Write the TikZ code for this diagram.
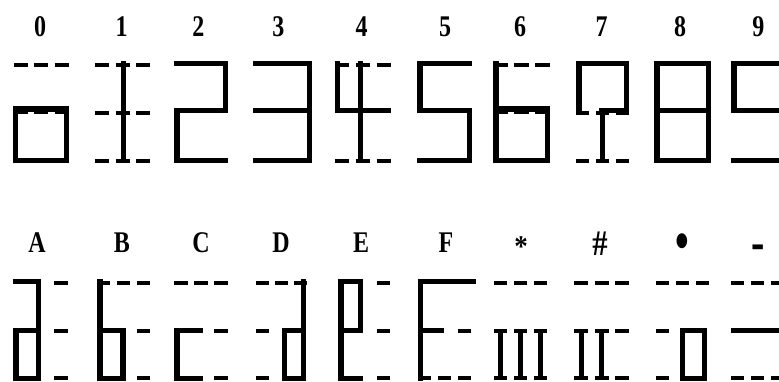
\documentclass[tikz,border=0pt]{standalone}
\usepackage{fontspec}
\setmainfont{Liberation Serif}
\usepackage{graphicx}
\newcommand\mydash[4]{%
  \pgfmathsetmacro\mydl{(#2-#1-13)/3}%
  \pgfmathsetmacro\myxa{#1+(#4-1)*(\mydl+6.5)}%
  \pgfmathsetmacro\myxb{\myxa+\mydl}%
  \draw[dashseg] (\myxa,#3) -- (\myxb,#3);}
\newcommand\myrow[3]{\mydash{#1}{#2}{#3}{1}\mydash{#1}{#2}{#3}{2}\mydash{#1}{#2}{#3}{3}}
\tikzset{
  seg/.style={line width=5.5pt, line cap=rect, line join=miter},
  stem/.style={line width=5pt},
  dashseg/.style={line width=4pt},
  lbl/.style={inner sep=0pt, anchor=base, font=\bfseries\fontsize{30}{30}\selectfont},
}
\begin{document}
\begin{tikzpicture}[x=1pt,y=-1pt]
\useasboundingbox (0,0) rectangle (779,381);
\clip (0,0) rectangle (779,381);
% ---------- top row labels ----------
\node[lbl] (d0) at (40,36) {\scalebox{0.8}[1]{0}};
\node[lbl] (d1) at (121.7,36) {\scalebox{0.8}[1]{1}};
\node[lbl] (d2) at (198.3,36) {\scalebox{0.8}[1]{2}};
\node[lbl] (d3) at (278.3,36) {\scalebox{0.8}[1]{3}};
\node[lbl] (d4) at (361.7,36) {\scalebox{0.8}[1]{4}};
\node[lbl] (d5) at (445,36) {\scalebox{0.8}[1]{5}};
\node[lbl] (d6) at (520,36) {\scalebox{0.8}[1]{6}};
\node[lbl] (d7) at (601.7,36) {\scalebox{0.8}[1]{7}};
\node[lbl] (d8) at (680,36) {\scalebox{0.8}[1]{8}};
\node[lbl] (d9) at (758.3,36) {\scalebox{0.8}[1]{9}};
% ---------- top row glyphs ----------
% 0
\myrow{14}{68.5}{65}\myrow{14}{68.5}{112}
\draw[seg] (15.25,109) rectangle (66.25,160.5);
% 1
\myrow{95}{150}{65}\myrow{95}{150}{113}\myrow{95}{150}{161}
\draw[stem] (123,61) -- (123,163);
% 2
\draw[seg] (176.75,63.5)--(225.25,63.5)--(225.25,110.5)--(176.75,110.5)--(176.75,160.5)--(225.25,160.5);
% 3
\draw[seg] (255.75,63.5)--(309.25,63.5)--(309.25,160.5)--(255.75,160.5);
\draw[seg] (255.75,110.5)--(309.25,110.5);
% 4
\myrow{335}{391}{65}\myrow{335}{391}{161}
\draw[seg,line width=5pt] (337.5,63.5)--(337.5,110.5)--(388.25,110.5);
\draw[stem] (360,61) -- (360,163);
% 5
\draw[seg] (469.25,63.5)--(419.75,63.5)--(419.75,110.5)--(469.25,110.5)--(469.25,160.5)--(419.75,160.5);
% 6
\myrow{493}{550}{65}\myrow{493}{550}{112}
\draw[seg] (495.75,63.5)--(495.75,160.5)--(547.25,160.5)--(547.25,109)--(495.75,109);
% 7
\myrow{576}{629}{113}\myrow{576}{629}{161}
\draw[seg] (578.75,110.5)--(578.75,63.5)--(626.25,63.5)--(626.25,110.5)--(602,110.5);
\draw[stem] (602,110.5) -- (602,163);
% 8
\draw[seg] (656.75,63.5) rectangle (708.25,160.5);
\draw[seg] (656.75,110.5)--(708.25,110.5);
% 9
\draw[seg] (790,63.5)--(733.75,63.5)--(733.75,110.5)--(790,110.5);
\draw[seg] (733.75,160.5)--(790,160.5);
% ---------- bottom row labels ----------
\node[lbl] (la) at (37,252.5) {\scalebox{0.8}[1]{A}};
\node[lbl] (lb) at (122,252.5) {\scalebox{0.8}[1]{B}};
\node[lbl] (lc) at (201,252.5) {\scalebox{0.8}[1]{C}};
\node[lbl] (ld) at (281,252.5) {\scalebox{0.8}[1]{D}};
\node[lbl] (le) at (361,252.5) {\scalebox{0.8}[1]{E}};
\node[lbl] (lf) at (446,252.5) {\scalebox{0.8}[1]{F}};
\node[lbl] (lstar) at (521,256) {\scalebox{0.9}[1]{*}};
\node[lbl,font=\bfseries\fontsize{36}{36}\selectfont] (lhash) at (600,255) {\scalebox{0.85}[1]{\#}};
\node[lbl,font=\bfseries\fontsize{46}{46}\selectfont] (ldot) at (682,259) {\scalebox{0.85}[1.2]{•}};
\node[lbl,font=\bfseries\fontsize{40}{40}\selectfont] (lminus) at (758.5,260) {\scalebox{1}[1.4]{-}};
% ---------- bottom row glyphs ----------
% A
\mydash{13}{68}{282.5}{3}\mydash{13}{68}{330.5}{3}\mydash{13}{68}{378}{3}
\draw[seg] (15.75,281.5)--(38.7,281.5)--(38.7,378.5)--(15.75,378.5)--(15.75,330.5)--(38.7,330.5);
% B
\myrow{97}{150}{282.5}\mydash{97}{150}{330.5}{3}\mydash{97}{150}{378}{3}
\draw[seg] (99.75,281.5)--(99.75,378.5)--(123,378.5)--(123,330.5)--(99.75,330.5);
% C
\myrow{174}{228}{282.5}\mydash{174}{228}{330.5}{3}\mydash{174}{228}{378}{3}
\draw[seg] (200.5,330.5)--(176.75,330.5)--(176.75,378.5)--(200.5,378.5);
% D
\myrow{256}{307}{282.5}\mydash{256}{307}{330.5}{1}\mydash{256}{307}{378}{1}
\draw[seg] (303.5,281.5)--(303.5,378.5)--(284.5,378.5)--(284.5,330.5)--(303.5,330.5);
% E
\mydash{338}{390}{282.5}{3}\mydash{338}{390}{330.5}{3}\mydash{338}{390}{378}{3}
\draw[seg] (360.5,378.5)--(340.75,378.5)--(340.75,281.5)--(360.5,281.5)--(360.5,330.5)--(340.75,330.5);
% F
\mydash{418}{471}{330.5}{3}\myrow{418}{471}{378}
\draw[seg] (473.25,281.5)--(420.5,281.5)--(420.5,378.5);
\draw[seg] (420.5,330.5)--(441.25,330.5);
% *
\myrow{494}{547}{282.5}\myrow{494}{547}{330.5}\myrow{494}{547}{378}
\draw[stem] (500.7,330.5)--(500.7,378);
\draw[stem] (520.5,330.5)--(520.5,378);
\draw[stem] (540.3,330.5)--(540.3,378);
% #
\myrow{574}{629}{282.5}\myrow{574}{629}{330.5}\myrow{574}{629}{378}
\draw[stem] (581,330.5)--(581,378);
\draw[stem] (601.5,330.5)--(601.5,378);
% bullet
\myrow{656}{709}{282.5}\mydash{656}{709}{330.5}{1}\mydash{656}{709}{378}{1}
\draw[seg] (682.5,330.5) rectangle (704.5,378.5);
% minus
\myrow{731}{784}{282.5}\myrow{731}{784}{378}
\draw[seg] (733.75,330.5)--(790,330.5);
\end{tikzpicture}
\end{document}
